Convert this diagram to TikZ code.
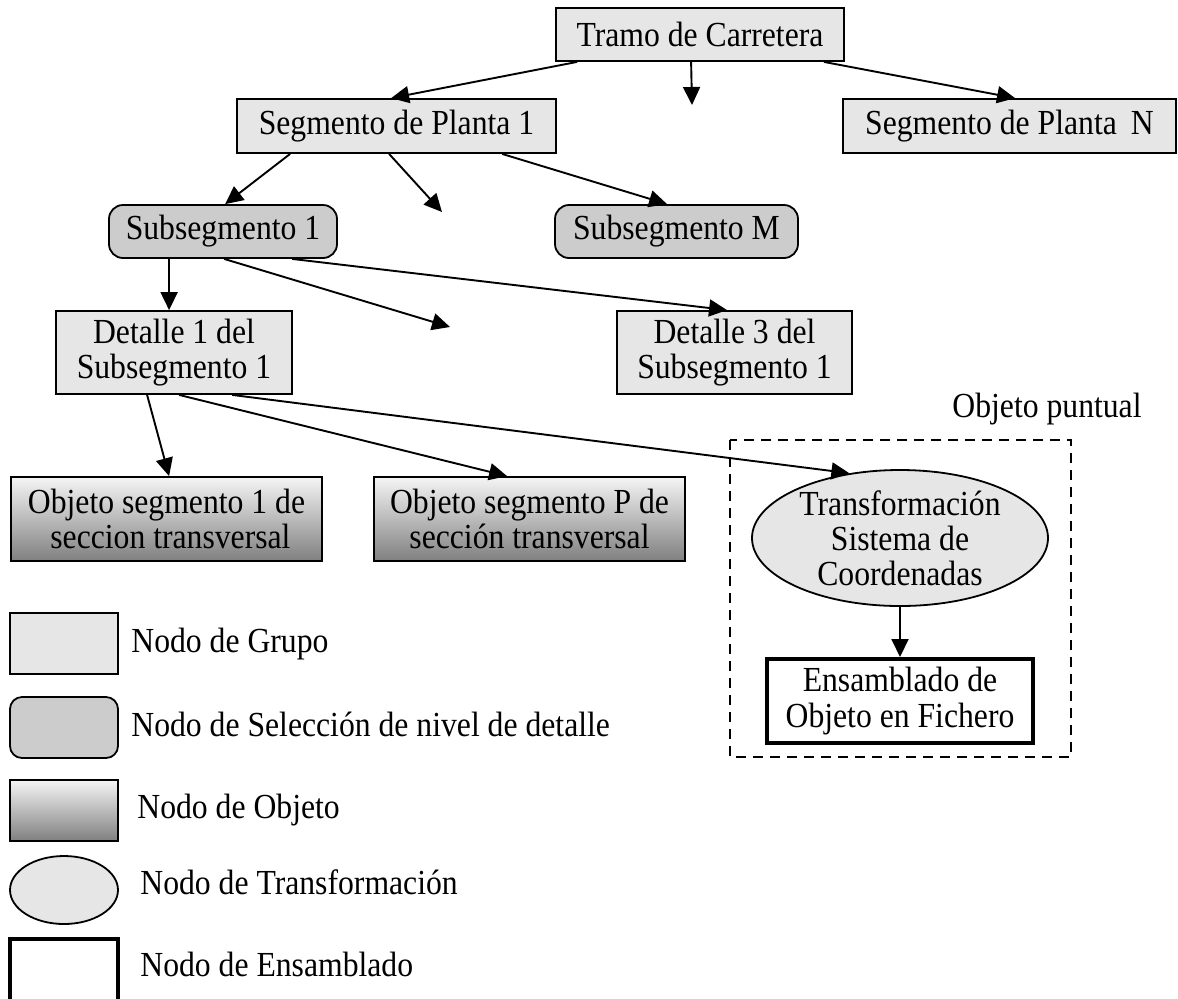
\documentclass[tikz,border=0pt]{standalone}
\usepackage{fontspec}
\setmainfont{Liberation Serif}[FakeStretch=0.9]
\usetikzlibrary{shapes.geometric,arrows.meta}
\definecolor{grpfill}{HTML}{E6E6E6}
\definecolor{selfill}{HTML}{CCCCCC}
\begin{document}
\begin{tikzpicture}[x=0.5pt,y=-0.5pt,
  font=\fontsize{17.6}{17.6}\selectfont,
  base/.style={draw=black,line width=0.9pt,inner sep=0pt,align=center},
  grp/.style={base,fill=grpfill},
  sel/.style={base,fill=selfill,rounded corners=7pt},
  objn/.style={base,top color=black!4,bottom color=black!50},
  trf/.style={base,ellipse,fill=grpfill},
  asm/.style={base,line width=2pt,fill=white},
  arr/.style={line width=0.95pt,-{Triangle[length=9pt,width=8.5pt]}},
  lbl/.style={inner sep=0pt,anchor=base west}]
\useasboundingbox (0,0) rectangle (1178,998);

% main nodes
\node[grp,minimum width=144pt,minimum height=26.5pt] (tramo) at (700,34.5) {Tramo de Carretera};
\node[grp,minimum width=159.5pt,minimum height=27pt] (seg1) at (396.5,126) {Segmento de Planta 1};
\node[grp,minimum width=166.5pt,minimum height=27pt] (segN) at (1009.5,126) {Segmento de Planta\hspace{0.4em}N};
\node[sel,minimum width=114pt,minimum height=26.5pt] (sub1) at (223,231.5) {Subsegmento 1};
\node[sel,minimum width=121.5pt,minimum height=26.5pt] (subM) at (676.5,231.5) {Subsegmento M};
\node[grp,minimum width=118pt,minimum height=41.5pt] (det1) at (174,352.5) {Detalle 1 del\\Subsegmento 1};
\node[grp,minimum width=117.5pt,minimum height=41.5pt] (det3) at (734.5,352.5) {Detalle 3 del\\Subsegmento 1};
\node[objn,minimum width=155.5pt,minimum height=42pt] (obj1) at (166.5,519) {Objeto segmento 1 de\\\ seccion transversal};
\node[objn,minimum width=155.5pt,minimum height=42pt] (objP) at (529.5,519) {Objeto segmento P de\\secci\'on transversal};
\node[trf,minimum width=148pt,minimum height=68pt] (trf) at (900,538) {Transformaci\'on\\Sistema de\\Coordenadas};
\node[asm,minimum width=133pt,minimum height=42pt] (asm) at (900,701) {Ensamblado de\\Objeto en Fichero};

% group box
\draw[line width=0.9pt,dash pattern=on 5pt off 3.5pt] (730,440) rectangle (1071,757);
\node[inner sep=0pt,anchor=base] (pt) at (1047,417) {Objeto puntual};

% free ends
\coordinate (d1) at (692,105);
\coordinate (d2) at (442,212);
\coordinate (d3) at (450,327);

% connectors
\draw[arr] ([xshift=11pt]tramo.south west) -- ([xshift=77.5pt]seg1.north west);
\draw[arr] ([xshift=68pt]tramo.south west) -- (d1);
\draw[arr] ([xshift=-10.5pt]tramo.south east) -- ([xshift=86.5pt]segN.north west);
\draw[arr] ([xshift=27pt]seg1.south west) -- ([xshift=58.5pt]sub1.north west);
\draw[arr] ([xshift=76.5pt]seg1.south west) -- (d2);
\draw[arr] ([xshift=133pt]seg1.south west) -- ([xshift=56.5pt]subM.north west);
\draw[arr] ([xshift=30.5pt]sub1.south west) -- ([xshift=57pt]det1.north west);
\draw[arr] ([xshift=58pt]sub1.south west) -- (d3);
\draw[arr] ([xshift=92pt]sub1.south west) -- ([xshift=55.5pt]det3.north west);
\draw[arr] ([xshift=46pt]det1.south west) -- ([xshift=79.5pt]obj1.north west);
\draw[arr] ([xshift=62pt]det1.south west) -- ([xshift=67pt]objP.north west);
\draw[arr] ([xshift=88.5pt]det1.south west) -- (trf.128);
\draw[arr] (trf.south) -- (asm.north);

% legend
\node[grp,minimum width=54pt,minimum height=30.5pt] (lg1) at (64,643.5) {};
\node[sel,rounded corners=6pt,minimum width=54pt,minimum height=30.5pt] (lg2) at (64,727.5) {};
\node[objn,minimum width=54pt,minimum height=30.5pt] (lg3) at (64,810.5) {};
\node[trf,minimum width=54pt,minimum height=34pt] (lg4) at (64,890) {};
\node[asm,minimum width=54pt,minimum height=34pt] (lg5) at (64,973) {};
\node[lbl] (t1) at (131,652) {Nodo de Grupo};
\node[lbl] (t2) at (131,736) {Nodo de Selecci\'on de nivel de detalle};
\node[lbl] (t3) at (137,818) {Nodo de Objeto};
\node[lbl] (t4) at (140,894) {Nodo de Transformaci\'on};
\node[lbl] (t5) at (140,976) {Nodo de Ensamblado};
\end{tikzpicture}
\end{document}
